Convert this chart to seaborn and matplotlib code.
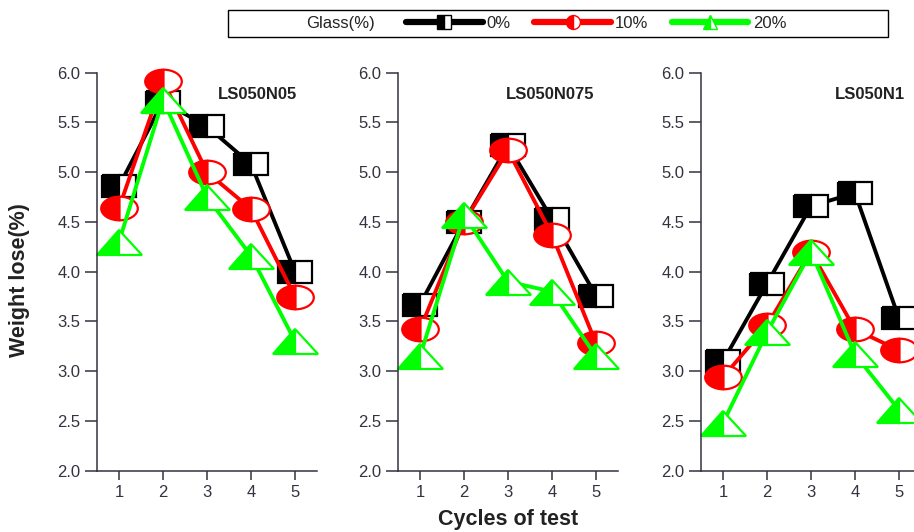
import matplotlib
matplotlib.use("Agg")
import matplotlib.pyplot as plt
import seaborn as sns
import pandas as pd
from matplotlib.markers import MarkerStyle
from matplotlib.transforms import Affine2D
from matplotlib.lines import Line2D
from matplotlib.patches import Rectangle

# ---- data ----
cycles = [1, 2, 3, 4, 5]
panels = ["LS050N05", "LS050N075", "LS050N1"]
glass_labels = ["0%", "10%", "20%"]

ls050n05_g0 = [4.86, 5.71, 5.46, 5.08, 4.00]
ls050n05_g10 = [4.64, 5.92, 5.00, 4.63, 3.75]
ls050n05_g20 = [4.30, 5.73, 4.75, 4.16, 3.30]

ls050n075_g0 = [3.67, 4.50, 5.27, 4.53, 3.76]
ls050n075_g10 = [3.42, 4.50, 5.22, 4.37, 3.28]
ls050n075_g20 = [3.15, 4.57, 3.90, 3.80, 3.15]

ls050n1_g0 = [3.10, 3.88, 4.66, 4.79, 3.53]
ls050n1_g10 = [2.94, 3.46, 4.20, 3.42, 3.21]
ls050n1_g20 = [2.48, 3.39, 4.20, 3.17, 2.61]

yticks = [2.0, 2.5, 3.0, 3.5, 4.0, 4.5, 5.0, 5.5, 6.0]

series = {
    "LS050N05": [ls050n05_g0, ls050n05_g10, ls050n05_g20],
    "LS050N075": [ls050n075_g0, ls050n075_g10, ls050n075_g20],
    "LS050N1": [ls050n1_g0, ls050n1_g10, ls050n1_g20],
}

rows = []
for p in panels:
    for g, vals in zip(glass_labels, series[p]):
        for c, v in zip(cycles, vals):
            rows.append({"panel": p, "glass": g, "cycle": c, "weight": v})
df = pd.DataFrame(rows)

# ---- style ----
sns.set_theme(style="white")
plt.rcParams["font.family"] = ["Liberation Sans", "DejaVu Sans"]

colors = {"0%": "#000000", "10%": "#ff0000", "20%": "#00ff00"}
# (marker, horizontal stretch, markersize)
base_markers = {"0%": ("s", 1.55, 16.0), "10%": ("o", 1.55, 17.0), "20%": ("^", 1.8, 18.0)}

def mstyle(m, sx):
    return MarkerStyle(m, fillstyle="left", transform=Affine2D().scale(sx, 1.0))

W, H = 914, 532
fig = plt.figure(figsize=(W / 100, H / 100), dpi=100)

lefts = [97, 398, 701]
ax_w = 220
top_px, bot_px = 72.7, 470.7
title_x = [0.73, 0.69, 0.77]
tick_col = "#333340"

axes = []
for i, p in enumerate(panels):
    ax = fig.add_axes([lefts[i] / W, 1 - bot_px / H, ax_w / W, (bot_px - top_px) / H])
    axes.append(ax)
    sub = df[df["panel"] == p]
    for g in glass_labels:
        m, sx, ms = base_markers[g]
        sns.lineplot(
            data=sub[sub["glass"] == g], x="cycle", y="weight", ax=ax,
            color=colors[g], lw=2.8,
            marker=mstyle(m, sx), markersize=ms,
            markerfacecolor=colors[g], markerfacecoloralt="white",
            markeredgecolor=colors[g], markeredgewidth=1.6,
            clip_on=False,
        )
    ax.set_xlim(0.5, 5.5)
    ax.set_ylim(2.0, 6.0)
    ax.set_xticks(cycles)
    ax.set_yticks(yticks)
    ax.set_yticklabels([f"{t:.1f}" for t in yticks])
    ax.set_xlabel("")
    ax.set_ylabel("")
    for s in ["top", "right"]:
        ax.spines[s].set_visible(False)
    for s in ["left", "bottom"]:
        ax.spines[s].set_color(tick_col)
        ax.spines[s].set_linewidth(1.1)
    ax.tick_params(axis="y", direction="out", length=9, width=1.1, color=tick_col,
                   labelsize=12, labelcolor=tick_col, pad=3, left=True)
    ax.tick_params(axis="x", direction="out", length=6.5, width=1.1, color=tick_col,
                   labelsize=12, labelcolor=tick_col, pad=4, bottom=True)
    ax.text(title_x[i], 0.945, p, transform=ax.transAxes, ha="center", va="center",
            fontsize=12, fontweight="bold", color="#222222")
    ax.set_facecolor("white")

fig.text(20 / W, 1 - 280 / H, "Weight lose(%)", rotation=90, ha="center", va="center",
         fontsize=15.5, fontweight="bold", color="#222222")
fig.text(508 / W, 1 - 519 / H, "Cycles of test", ha="center", va="center",
         fontsize=15.5, fontweight="bold", color="#222222")

# legend box
fig.add_artist(Rectangle((228 / W, 1 - 37 / H), 660 / W, 27 / H, transform=fig.transFigure,
                         fill=False, ec="black", lw=1.0))
fig.text(306 / W, 1 - 23.5 / H, "Glass(%)", ha="left", va="center", fontsize=12, color="#222222")
handles = []
for g in glass_labels:
    m, sx, ms = base_markers[g]
    handles.append(Line2D([], [], color=colors[g], lw=4.5,
                          marker=mstyle(m, 1.0), markersize=10,
                          markerfacecolor=colors[g], markerfacecoloralt="white",
                          markeredgecolor=colors[g], markeredgewidth=1.0))
fig.legend(handles, glass_labels, loc="center left", bbox_to_anchor=(406 / W, 1 - 23.5 / H),
           ncol=3, frameon=False, fontsize=12, handlelength=4.6, handletextpad=0.25,
           columnspacing=1.4, borderpad=0, borderaxespad=0)

fig.savefig("out.png", dpi=100, facecolor="white")
